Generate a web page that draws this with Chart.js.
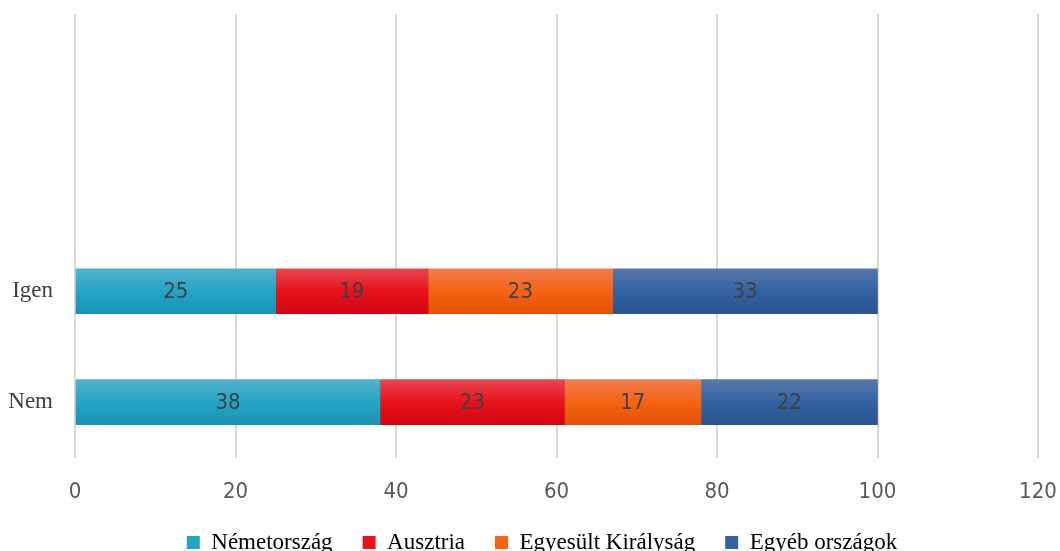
<!DOCTYPE html>
<html>
<head>
<meta charset="utf-8">
<script src="https://cdn.jsdelivr.net/npm/chart.js@4"></script>
<style>
  html, body { margin: 0; padding: 0; background: #fff; overflow: hidden; }
  #wrap { width: 1060px; height: 564px; }
</style>
</head>
<body>
<div id="wrap"><canvas id="chart"></canvas></div>
<script>
// categories, top to bottom (the two top rows are empty in the original)
const categories = ['', '', 'Igen', 'Nem'];
const seriesNames = ['Németország', 'Ausztria', 'Egyesült Királyság', 'Egyéb országok'];
const nemetorszag = [null, null, 25, 38];
const ausztria = [null, null, 19, 23];
const egyesult = [null, null, 23, 17];
const egyeb = [null, null, 33, 22];
const xTicks = [0, 20, 40, 60, 80, 100, 120];

// top, middle, bottom shades for each series
const shades = [
  ['#52b2cc', '#25a4c5', '#1993b3'],
  ['#e6474f', '#e8121d', '#cf0713'],
  ['#f17d4f', '#f56313', '#e15204'],
  ['#5878aa', '#3462a1', '#2a548e']
];

const BAR_H = 45;
const SANS = '"DejaVu Sans Condensed", "Liberation Sans Narrow", sans-serif';
const SERIF = '"Liberation Serif", "Times New Roman", serif';

function gradFill(i) {
  return function (ctx) {
    const chart = ctx.chart;
    const y = chart.scales.y;
    if (!y || ctx.type !== 'data') return shades[i][1];
    const c = y.getPixelForValue(ctx.dataIndex);
    const g = chart.ctx.createLinearGradient(0, c - BAR_H / 2, 0, c + BAR_H / 2);
    g.addColorStop(0, shades[i][0]);
    g.addColorStop(0.5, shades[i][1]);
    g.addColorStop(1, shades[i][2]);
    return g;
  };
}

const segLabels = {
  id: 'segLabels',
  afterDatasetsDraw(chart) {
    const ctx = chart.ctx;
    ctx.save();
    ctx.font = '22px ' + SANS;
    ctx.fillStyle = '#404040';
    ctx.textAlign = 'center';
    ctx.textBaseline = 'middle';
    chart.data.datasets.forEach((ds, di) => {
      chart.getDatasetMeta(di).data.forEach((bar, idx) => {
        const v = ds.data[idx];
        if (v == null) return;
        const cx = (bar.x + bar.base) / 2;
        ctx.fillText(String(v), cx, bar.y + 1);
      });
    });
    ctx.restore();
  }
};

// nudge the legend a bit to the right, like the original
const legendShift = {
  id: 'legendShift',
  afterUpdate(chart) {
    const lg = chart.legend;
    if (!lg) return;
    lg.left += 19;
    lg.right += 19;
    if (lg.adjustHitBoxes) lg.adjustHitBoxes();
  }
};

const allSeries = [nemetorszag, ausztria, egyesult, egyeb];

new Chart(document.getElementById('chart'), {
  type: 'bar',
  data: {
    labels: categories,
    datasets: allSeries.map((d, i) => ({
      label: seriesNames[i],
      data: d,
      backgroundColor: gradFill(i),
      borderWidth: 0,
      barThickness: BAR_H
    }))
  },
  options: {
    indexAxis: 'y',
    responsive: true,
    maintainAspectRatio: false,
    animation: false,
    layout: { padding: { top: 14, right: 22, left: 8, bottom: 0 } },
    scales: {
      x: {
        stacked: true,
        min: 0,
        max: 120,
        afterBuildTicks(axis) { axis.ticks = xTicks.map(v => ({ value: v })); },
        afterFit(axis) { axis.paddingLeft = 0; axis.paddingRight = 0; axis.height -= 25; },
        grid: { color: '#d9d9d9', lineWidth: 2, drawTicks: false },
        border: { display: false },
        ticks: {
          padding: 21,
          color: '#595959',
          font: { family: SANS, size: 22 }
        }
      },
      y: {
        stacked: true,
        afterFit(axis) { axis.paddingTop = 0; axis.paddingBottom = 0; axis.width = 67; },
        grid: { display: false, drawTicks: false },
        border: { display: false },
        ticks: {
          padding: 22,
          color: '#404040',
          font: { family: SERIF, size: 23 }
        }
      }
    },
    plugins: {
      legend: {
        position: 'bottom',
        labels: {
          boxWidth: 13,
          boxHeight: 13,
          padding: 30,
          color: '#404040',
          font: { family: SERIF, size: 23 },
          generateLabels(chart) {
            return chart.data.datasets.map((ds, i) => ({
              text: ds.label,
              fillStyle: shades[i][1],
              strokeStyle: shades[i][1],
              lineWidth: 0,
              datasetIndex: i,
              hidden: false
            }));
          }
        }
      },
      tooltip: { enabled: false }
    }
  },
  plugins: [segLabels, legendShift]
});
</script>
</body>
</html>
